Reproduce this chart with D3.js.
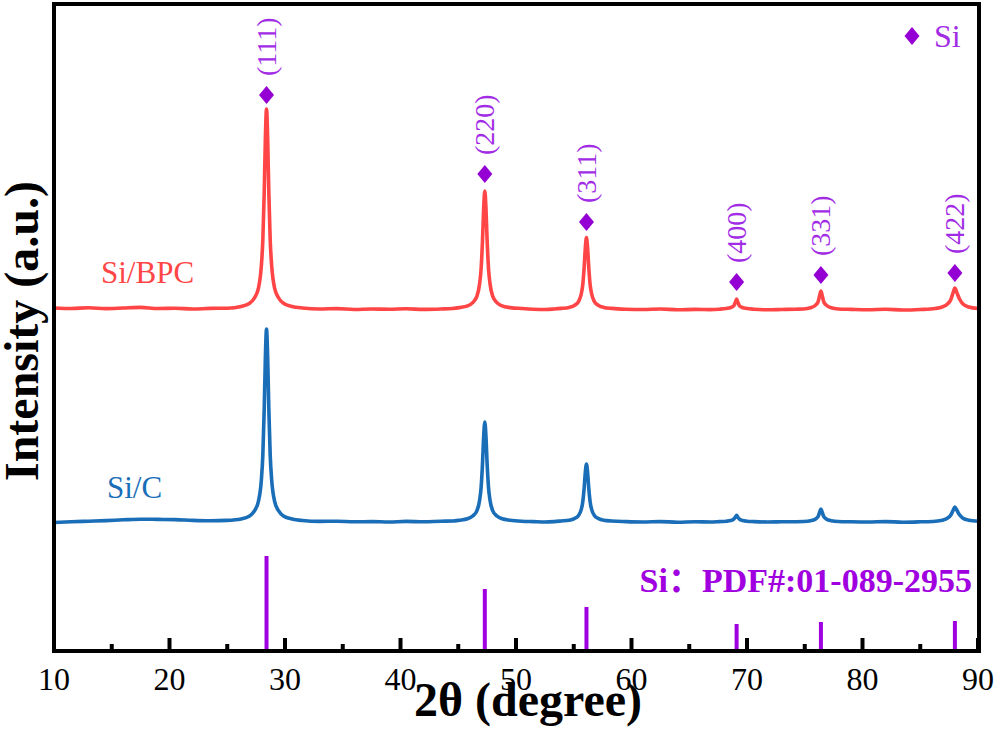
<!DOCTYPE html>
<html lang="en">
    <head>
        <meta charset="utf-8">
        <title>XRD Si/BPC Si/C</title>
        <script type="text/javascript" src="https://cdn.jsdelivr.net/npm/d3@7"></script>
        <style>
        body{
            margin:0;
            background-color:white;
        }
        text{
            font-family:"Liberation Serif","Times New Roman",serif;
        }
        </style>
    </head>
    <body>
        <script type="text/javascript">

        let w = 995;
        let h = 741;

        //Si/BPC pattern, [2theta, intensity]
        let siBPC = [[10,3430],[11.5,3425],[13,3432],[14.5,3424],[16,3430],[17.5,3436],[19,3425],[20.5,3428],[22,3420],[23.5,3426],[25,3428],
            [26.2,3446],[26.9,3474],[27.35,3530],[27.7,3629],[27.95,3848],[28.08,4107],[28.2,4584],[28.3,5122],[28.4,5420],[28.5,5122],[28.6,4584],[28.72,4107],[28.85,3848],[29.1,3629],[29.45,3530],[29.9,3474],[30.6,3446],
            [31.5,3430],[33,3420],[34.5,3424],[36,3415],[37.5,3420],[39,3418],[40.5,3422],[42,3416],[43.5,3420],[44.5,3425],
            [45.1,3434],[45.8,3451],[46.25,3484],[46.6,3543],[46.85,3672],[46.98,3825],[47.1,4107],[47.2,4424],[47.3,4600],[47.4,4424],[47.5,4107],[47.62,3825],[47.75,3672],[48.0,3543],[48.35,3484],[48.8,3451],[49.5,3434],
            [50.5,3425],[51.5,3418],[52.5,3415],[53.3,3420],
            [53.9,3426],[54.6,3436],[55.05,3456],[55.4,3492],[55.65,3570],[55.78,3663],[55.9,3835],[56.0,4028],[56.1,4135],[56.2,4028],[56.3,3835],[56.42,3663],[56.55,3570],[56.8,3492],[57.15,3456],[57.6,3436],[58.3,3426],
            [59.5,3418],[61,3415],[62.5,3420],[64,3412],[65.5,3416],[66.8,3414],
            [67.6,3418],[68.2,3425],[68.6,3435],[68.85,3452],[69.0,3490],[69.1,3520],[69.2,3490],[69.35,3452],[69.6,3435],[70.0,3425],[70.6,3418],
            [71.8,3412],[73,3415],[74.2,3418],
            [74.9,3420],[75.5,3432],[75.9,3455],[76.15,3490],[76.3,3560],[76.4,3600],[76.5,3560],[76.65,3490],[76.9,3455],[77.3,3432],[77.9,3420],
            [79,3416],[80.5,3412],[82,3418],[83.5,3410],[85,3415],
            [86.3,3425],[86.9,3440],[87.35,3470],[87.65,3515],[87.85,3585],[88.0,3630],[88.15,3590],[88.4,3520],[88.7,3470],[89.2,3440],[90,3425]];

        //Si/C pattern
        let siC = [[10,1285],[11.5,1292],[13,1298],[14.5,1304],[16,1312],[17.5,1318],[19,1316],[20.5,1314],[22,1306],[23.5,1302],[25,1306],
            [26.2,1320],[26.9,1347],[27.35,1401],[27.7,1497],[27.95,1707],[28.08,1956],[28.2,2416],[28.3,2933],[28.4,3220],[28.5,2933],[28.6,2416],[28.72,1956],[28.85,1707],[29.1,1497],[29.45,1401],[29.9,1347],[30.6,1320],
            [31.5,1305],[33,1296],[34.5,1298],[36,1292],[37.5,1294],[39,1290],[40.5,1296],[42,1292],[43.5,1298],[44.5,1300],
            [45.1,1308],[45.8,1322],[46.25,1350],[46.6,1399],[46.85,1508],[46.98,1637],[47.1,1874],[47.2,2142],[47.3,2290],[47.4,2142],[47.5,1874],[47.62,1637],[47.75,1508],[48.0,1399],[48.35,1350],[48.8,1322],[49.5,1308],
            [50.5,1298],[51.5,1294],[52.5,1290],[53.3,1294],
            [53.9,1300],[54.6,1308],[55.05,1324],[55.4,1353],[55.65,1416],[55.78,1491],[55.9,1629],[56.0,1784],[56.1,1870],[56.2,1784],[56.3,1629],[56.42,1491],[56.55,1416],[56.8,1353],[57.15,1324],[57.6,1308],[58.3,1300],
            [59.5,1294],[61,1290],[62.5,1294],[64,1288],[65.5,1292],[66.8,1290],
            [67.6,1294],[68.2,1298],[68.6,1305],[68.85,1318],[69.0,1340],[69.1,1357],[69.2,1340],[69.35,1318],[69.6,1305],[70.0,1298],[70.6,1294],
            [71.8,1290],[73,1292],[74.2,1293],
            [74.9,1295],[75.5,1303],[75.9,1318],[76.15,1343],[76.3,1392],[76.4,1420],[76.5,1392],[76.65,1343],[76.9,1318],[77.3,1303],[77.9,1295],
            [79,1292],[80.5,1290],[82,1294],[83.5,1288],[85,1292],
            [86.3,1298],[86.9,1308],[87.35,1328],[87.65,1360],[87.85,1408],[88.0,1440],[88.15,1412],[88.4,1362],[88.7,1328],[89.2,1308],[90,1298]];

        //Si reference lines PDF#01-089-2955
        let refPos = [28.4, 47.3, 56.1, 69.1, 76.4, 88.0];
        let refInt = [950, 620, 440, 270, 290, 300];

        //peak labels over Si/BPC
        let hkl = ["(111)", "(220)", "(311)", "(400)", "(331)", "(422)"];
        let markInt = [5560, 4770, 4290, 3690, 3760, 3780];

        let xTicks = [10, 20, 30, 40, 50, 60, 70, 80, 90];
        let xMinor = [15, 25, 35, 45, 55, 65, 75, 85];

        let pLeft = 54, pRight = 978, pTop = 4, pBottom = 651;

        let x = d3.scaleLinear().domain([10, 90]).range([pLeft, pRight]);
        let y = d3.scaleLinear().domain([0, 6470]).range([pBottom, pTop]);

        //creates the canvas
        var svg = d3.select("body")
                    .append("svg")
                    .attr("width", w)
                    .attr("height", h);

        let line = d3.line()
                    .x(function(d){ return x(d[0]); })
                    .y(function(d){ return y(d[1]); })
                    .curve(d3.curveMonotoneX);

        //the two patterns
        svg.append("path")
            .datum(siBPC)
            .attr("d", line)
            .attr("fill", "none")
            .attr("stroke", "#ff4545")
            .attr("stroke-width", 3.6)
            .attr("stroke-linejoin", "round");

        svg.append("path")
            .datum(siC)
            .attr("d", line)
            .attr("fill", "none")
            .attr("stroke", "#1a6db7")
            .attr("stroke-width", 3.6)
            .attr("stroke-linejoin", "round");

        //reference sticks
        svg.selectAll(".ref")
            .data(refPos)
            .enter()
            .append("line")
            .attr("class", "ref")
            .attr("x1", function(d){ return x(d); })
            .attr("x2", function(d){ return x(d); })
            .attr("y1", y(0))
            .attr("y2", function(d, i){ return y(refInt[i]); })
            .attr("stroke", "#a000e0")
            .attr("stroke-width", 4);

        //diamonds
        let diamond = "M0,-9L7.5,0L0,9L-7.5,0Z";
        svg.selectAll(".mark")
            .data(refPos)
            .enter()
            .append("path")
            .attr("class", "mark")
            .attr("d", diamond)
            .attr("fill", "#9400d3")
            .attr("transform", function(d, i){
                return "translate(" + x(d) + "," + y(markInt[i]) + ")";
            });

        svg.selectAll(".hkl")
            .data(refPos)
            .enter()
            .append("text")
            .attr("class", "hkl")
            .attr("transform", function(d, i){
                return "translate(" + x(d) + "," + (y(markInt[i]) - 19) + ") rotate(-90)";
            })
            .attr("dy", "0.33em")
            .attr("font-size", 28)
            .attr("fill", "#a22ce6")
            .text(function(d, i){ return hkl[i]; });

        //legend
        svg.append("path")
            .attr("d", diamond)
            .attr("fill", "#9400d3")
            .attr("transform", "translate(912,36)");
        svg.append("text")
            .attr("x", 934)
            .attr("y", 47)
            .attr("font-size", 32)
            .attr("fill", "#a22ce6")
            .text("Si");

        //sample names
        svg.append("text")
            .attr("x", 101)
            .attr("y", 283)
            .attr("font-size", 31)
            .attr("fill", "#ff4545")
            .text("Si/BPC");
        svg.append("text")
            .attr("x", 107)
            .attr("y", 498)
            .attr("font-size", 31)
            .attr("fill", "#1a6db7")
            .text("Si/C");

        let pdf = svg.append("text")
            .attr("x", 972)
            .attr("y", 592)
            .attr("text-anchor", "end")
            .attr("font-size", 34)
            .attr("font-weight", "bold")
            .attr("fill", "#a000e0");
        pdf.append("tspan").text("Si");
        pdf.append("tspan")
            .style("font-family", "'Noto Sans CJK SC'")
            .text("：");
        pdf.append("tspan").text("PDF#:01-089-2955");

        //ticks, pointing inward
        svg.selectAll(".major")
            .data(xTicks)
            .enter()
            .append("line")
            .attr("class", "major")
            .attr("x1", function(d){ return x(d); })
            .attr("x2", function(d){ return x(d); })
            .attr("y1", pBottom)
            .attr("y2", pBottom - 13)
            .attr("stroke", "black")
            .attr("stroke-width", 4);

        svg.selectAll(".minor")
            .data(xMinor)
            .enter()
            .append("line")
            .attr("class", "minor")
            .attr("x1", function(d){ return x(d); })
            .attr("x2", function(d){ return x(d); })
            .attr("y1", pBottom)
            .attr("y2", pBottom - 7)
            .attr("stroke", "black")
            .attr("stroke-width", 4);

        svg.selectAll(".tlab")
            .data(xTicks)
            .enter()
            .append("text")
            .attr("class", "tlab")
            .attr("x", function(d){ return x(d); })
            .attr("y", 690)
            .attr("text-anchor", "middle")
            .attr("font-size", 32)
            .attr("fill", "black")
            .text(function(d){ return d; });

        //frame
        svg.append("rect")
            .attr("x", pLeft)
            .attr("y", pTop)
            .attr("width", pRight - pLeft + 1)
            .attr("height", pBottom - pTop)
            .attr("fill", "none")
            .attr("stroke", "black")
            .attr("stroke-width", 4);

        //axis titles
        svg.append("text")
            .attr("x", 528)
            .attr("y", 716)
            .attr("text-anchor", "middle")
            .attr("font-size", 48)
            .attr("font-weight", "bold")
            .text("2θ (degree)");

        svg.append("text")
            .attr("transform", "translate(38,331) rotate(-90)")
            .attr("text-anchor", "middle")
            .attr("font-size", 48)
            .attr("font-weight", "bold")
            .text("Intensity (a.u.)");

        </script>
    </body>
</html>
